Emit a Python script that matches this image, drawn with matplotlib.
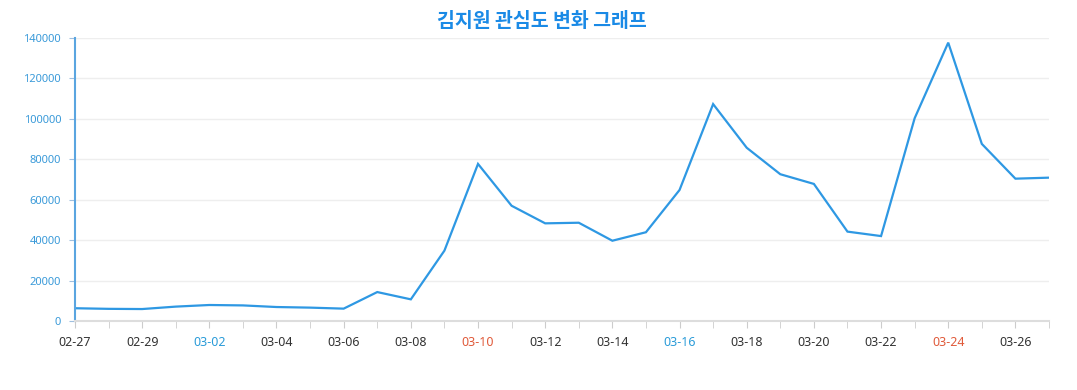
import numpy as np
import matplotlib.pyplot as plt
import pandas as pd

# 관심도 데이터 (2024-02-27 ~ 2024-03-27)
dates = pd.date_range("2024-02-27", "2024-03-27", freq="D")
values = [6300, 6000, 5900, 7100, 7900, 7700, 6900, 6600, 6100, 14300,
          10700, 34800, 77700, 57000, 48300, 48600, 39700, 43900, 64800, 107300,
          85700, 72600, 67800, 44200, 42000, 100300, 137700, 87600, 70400, 70900]
title = "김지원 관심도 변화 그래프"

line_color = "#2e98e3"
plt.rcParams['font.family'] = ['Noto Sans', 'Noto Sans CJK KR', 'DejaVu Sans']

fig = plt.figure(figsize=(10.77, 3.9), dpi=100)
ax = fig.add_axes([0.0696, 0.177, 0.9044, 0.7256])

x = np.arange(len(dates))
ax.plot(x, values, color=line_color, lw=1.6, solid_joinstyle='miter')

ax.set_xlim(0, len(dates) - 1)
ax.set_ylim(0, 140000)
ax.set_yticks(np.arange(0, 140001, 20000))
ax.grid(axis='y', color='#eeeeee', lw=1)
ax.set_axisbelow(True)

# x축 - 매일 눈금, 라벨은 이틀 간격
ax.set_xticks(x, minor=True)
ax.set_xticks(x[::2])
ax.set_xticklabels([d.strftime("%m-%d") for d in dates[::2]], fontsize=9)
for lab, d in zip(ax.get_xticklabels(), dates[::2]):
    if d.weekday() == 5:
        lab.set_color('#2a9bd8')
    elif d.weekday() == 6:
        lab.set_color('#e05a3a')
    else:
        lab.set_color('#333333')
ax.tick_params(axis='x', which='both', length=5, color='#cccccc', pad=6)

ax.tick_params(axis='y', length=4, color='#9fbfdf', labelsize=8, labelcolor='#3a9ad9', pad=6)

for s in ['top', 'right']:
    ax.spines[s].set_visible(False)
ax.spines['left'].set_color('#5aa5e0')
ax.spines['left'].set_linewidth(1.5)
ax.spines['bottom'].set_color('#dddddd')
ax.spines['bottom'].set_linewidth(1.5)

fig.text(0.5035, 0.945, title, ha='center', va='center', fontsize=14,
         fontweight='bold', color='#1a8ae6', family=['Noto Sans CJK KR', 'DejaVu Sans'])

fig.savefig("out.png", dpi=100)
